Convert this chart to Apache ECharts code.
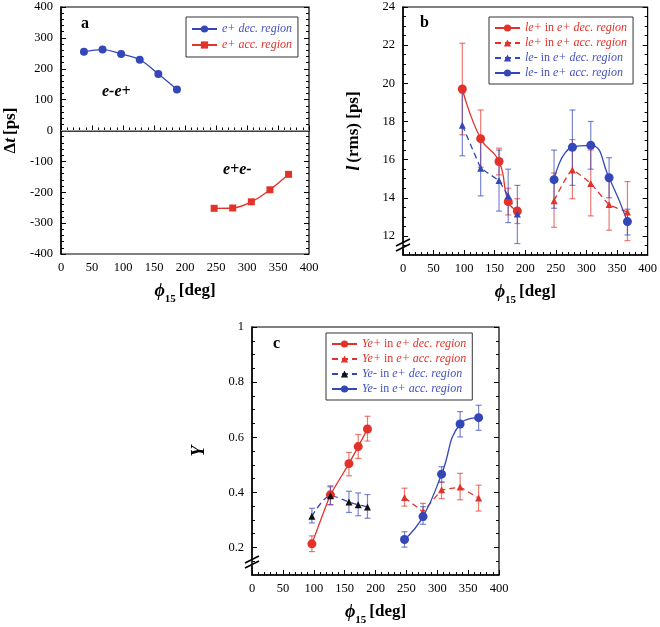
<!DOCTYPE html>
<html>
<head>
<meta charset="utf-8">
<script src="https://cdn.jsdelivr.net/npm/echarts@6/dist/echarts.min.js"></script>
<style>
  html, body { margin: 0; padding: 0; background: #fff; }
  #main { width: 660px; height: 627px; }
</style>
</head>
<body>
<div id="main"></div>
<script>
// ---- panel a: delta t vs phi15
const phiA_dec = [37, 67, 97, 127, 157, 187];
const dtA_dec = [255, 262, 248, 229, 183, 133];
const phiA_acc = [247, 277, 307, 337, 367];
const dtA_acc = [-252, -251, -231, -192, -142];

// ---- panels b, c share these phi positions
const phiDec = [97, 127, 157, 172, 187];
const phiAcc = [247, 277, 307, 337, 367];

// ---- panel b: bunch length (rms) [ps]
const lePlusDec = [19.7, 17.1, 15.9, 13.8, 13.3];
const lePlusDecLo = [17.3, 15.6, 15.2, 13.1, 12.65];
const lePlusDecHi = [22.1, 18.6, 16.6, 14.5, 13.95];
const lePlusAcc = [13.85, 15.45, 14.75, 13.65, 13.25];
const lePlusAccLo = [12.45, 13.95, 13.05, 12.3, 11.75];
const lePlusAccHi = [15.3, 17.05, 16.5, 15.0, 14.85];
const leMinusDec = [17.8, 15.55, 14.9, 14.1, 13.15];
const leMinusDecLo = [16.2, 14.1, 13.3, 12.7, 11.6];
const leMinusDecHi = [19.5, 17.1, 16.5, 15.5, 14.65];
const leMinusAcc = [14.95, 16.65, 16.75, 15.05, 12.75];
const leMinusAccLo = [13.45, 14.65, 15.5, 14.0, 12.05];
const leMinusAccHi = [16.5, 18.6, 18.0, 16.1, 13.4];

// ---- panel c: yield Y
const yePlusDec = [0.213, 0.391, 0.504, 0.566, 0.63];
const yePlusDecLo = [0.185, 0.355, 0.46, 0.523, 0.586];
const yePlusDecHi = [0.242, 0.424, 0.545, 0.61, 0.676];
const yePlusAcc = [0.381, 0.329, 0.409, 0.419, 0.379];
const yePlusAccLo = [0.35, 0.30, 0.377, 0.373, 0.332];
const yePlusAccHi = [0.415, 0.36, 0.437, 0.469, 0.426];
const yeMinusDec = [0.313, 0.388, 0.365, 0.355, 0.347];
const yeMinusDecLo = [0.289, 0.355, 0.327, 0.315, 0.306];
const yeMinusDecHi = [0.342, 0.42, 0.404, 0.398, 0.392];
const yeMinusAcc = [0.229, 0.312, 0.466, 0.648, 0.671];
const yeMinusAccLo = [0.201, 0.284, 0.437, 0.601, 0.625];
const yeMinusAccHi = [0.257, 0.348, 0.493, 0.693, 0.716];

// tick labels
const xTicks = [0, 50, 100, 150, 200, 250, 300, 350, 400];
const bTicks = [12, 14, 16, 18, 20, 22, 24];
const cTicks = [0.2, 0.4, 0.6, 0.8, 1];

const FONT = 'Liberation Serif';
const BLUE = '#3447b8';
const RED = '#e2322a';
const BLUE_TXT = '#4553c2';
const RED_TXT = '#e2322a';

const pairs = (xs, ys) => xs.map((x, i) => [x, ys[i]]);
const range = (a, b, step) => {
  const out = [];
  for (let v = a; v <= b + 1e-9; v += step) out.push(+v.toFixed(3));
  return out;
};

function errBars(xs, lo, hi, color, xi, yi) {
  return {
    type: 'custom',
    xAxisIndex: xi,
    yAxisIndex: yi,
    silent: true,
    z: 1,
    data: xs.map((x, i) => [x, lo[i], hi[i]]),
    renderItem: (params, api) => {
      const p1 = api.coord([api.value(0), api.value(1)]);
      const p2 = api.coord([api.value(0), api.value(2)]);
      const w = 3;
      const st = { stroke: color, lineWidth: 1.2 };
      return {
        type: 'group',
        children: [
          { type: 'line', shape: { x1: p1[0], y1: p1[1], x2: p2[0], y2: p2[1] }, style: st },
          { type: 'line', shape: { x1: p1[0] - w, y1: p1[1], x2: p1[0] + w, y2: p1[1] }, style: st },
          { type: 'line', shape: { x1: p2[0] - w, y1: p2[1], x2: p2[0] + w, y2: p2[1] }, style: st }
        ]
      };
    }
  };
}

function lineSeries(name, xs, ys, opt) {
  return {
    type: 'line',
    name: name,
    xAxisIndex: opt.xi,
    yAxisIndex: opt.yi,
    data: pairs(xs, ys),
    smooth: opt.smooth || false,
    symbol: opt.symbol,
    symbolSize: opt.size || 8,
    itemStyle: { color: opt.mark || opt.color },
    lineStyle: { color: opt.color, width: 1.3, type: opt.dashed ? [6, 4] : 'solid' },
    z: 3
  };
}

const xName = '{p|\u03d5}{s|15} {b|[deg]}';
const xNameStyle = {
  fontFamily: FONT,
  color: '#000',
  rich: {
    p: { fontFamily: FONT, fontSize: 18, fontWeight: 'bold', fontStyle: 'italic', verticalAlign: 'top', lineHeight: 23 },
    s: { fontFamily: FONT, fontSize: 11, fontWeight: 'bold', verticalAlign: 'bottom', lineHeight: 23 },
    b: { fontFamily: FONT, fontSize: 17, fontWeight: 'bold', verticalAlign: 'top', lineHeight: 23 }
  }
};

const xAxes = [0, 1, 2].map(i => ({
  gridIndex: i,
  type: 'value',
  min: 0,
  max: 400,
  interval: 50,
  splitLine: { show: false },
  axisLine: { lineStyle: { color: '#000', width: 1.5 } },
  axisTick: { inside: true, length: 5, lineStyle: { color: '#000' } },
  minorTick: { show: true, splitNumber: 5, length: 3, lineStyle: { color: '#000' } },
  axisLabel: { color: '#000', fontSize: 12.5, fontFamily: FONT, margin: 7 },
  name: xName,
  nameLocation: 'middle',
  nameGap: 28,
  nameTextStyle: xNameStyle
}));

const tickAxis = (grid, pos, min, max, values, len, labels, extra) => Object.assign({
  gridIndex: grid,
  type: 'value',
  position: pos,
  min: min,
  max: max,
  splitLine: { show: false },
  axisLine: { show: false },
  axisTick: { show: true, inside: true, length: len, customValues: values, lineStyle: { color: '#000' } },
  axisLabel: labels ? { color: '#000', fontSize: 12.5, fontFamily: FONT, margin: 8, customValues: values } : { show: false }
}, extra || {});

const yAxes = [
  // 0: panel a left
  {
    gridIndex: 0, type: 'value', min: -400, max: 400, interval: 100,
    splitLine: { show: false },
    axisLine: { lineStyle: { color: '#000', width: 1.5 } },
    axisTick: { inside: true, length: 5, lineStyle: { color: '#000' } },
    minorTick: { show: true, splitNumber: 5, length: 3, lineStyle: { color: '#000' } },
    axisLabel: { color: '#000', fontSize: 12.5, fontFamily: FONT, margin: 8 },
    name: '{d|\u0394}{t|t} {b|[ps]}', nameLocation: 'middle', nameGap: 42,
    nameTextStyle: {
      rich: {
        d: { fontFamily: FONT, fontSize: 17, fontWeight: 'bold' },
        t: { fontFamily: FONT, fontSize: 17, fontWeight: 'bold', fontStyle: 'italic' },
        b: { fontFamily: FONT, fontSize: 17, fontWeight: 'bold' }
      }
    }
  },
  // 1: panel a right
  {
    gridIndex: 0, type: 'value', position: 'right', min: -400, max: 400, interval: 100,
    splitLine: { show: false }, axisLine: { show: false },
    axisTick: { inside: true, length: 5, lineStyle: { color: '#000' } },
    minorTick: { show: true, splitNumber: 5, length: 3, lineStyle: { color: '#000' } },
    axisLabel: { show: false }
  },
  // 2: panel b left, main
  tickAxis(1, 'left', 11, 24, bTicks, 5, true, {
    axisLine: { show: true, lineStyle: { color: '#000', width: 1.5 } },
    name: '{l|l} {b|(rms) [ps]}', nameLocation: 'middle', nameGap: 40,
    nameTextStyle: {
      rich: {
        l: { fontFamily: FONT, fontSize: 18, fontWeight: 'bold', fontStyle: 'italic' },
        b: { fontFamily: FONT, fontSize: 17, fontWeight: 'bold' }
      }
    }
  }),
  // 3: panel b left minor
  tickAxis(1, 'left', 11, 24, range(11.5, 24, 0.5), 3, false),
  // 4: panel b right
  tickAxis(1, 'right', 11, 24, bTicks, 5, false),
  // 5: panel b right minor
  tickAxis(1, 'right', 11, 24, range(11.5, 24, 0.5), 3, false),
  // 6: panel c left, main
  tickAxis(2, 'left', 0.1, 1, cTicks, 5, true, {
    axisLine: { show: true, lineStyle: { color: '#000', width: 1.5 } },
    name: 'Y', nameLocation: 'middle', nameGap: 44,
    nameTextStyle: { fontFamily: FONT, fontSize: 18, fontWeight: 'bold', fontStyle: 'italic', color: '#000' }
  }),
  // 7: panel c left minor
  tickAxis(2, 'left', 0.1, 1, range(0.15, 1, 0.05), 3, false),
  // 8: panel c right
  tickAxis(2, 'right', 0.1, 1, cTicks, 5, false),
  // 9: panel c right minor
  tickAxis(2, 'right', 0.1, 1, range(0.15, 1, 0.05), 3, false)
];

const legendBase = {
  orient: 'vertical',
  itemWidth: 25,
  itemHeight: 9,
  itemGap: 3,
  padding: [5, 6, 5, 5],
  borderColor: '#333',
  borderWidth: 1,
  backgroundColor: '#fff',
  borderRadius: 0,
  selectedMode: false
};

const LFS = 12;
const richLegend = {
  ir: { fontFamily: FONT, fontSize: LFS, fontStyle: 'italic', color: RED_TXT },
  nr: { fontFamily: FONT, fontSize: LFS, color: RED_TXT },
  ib: { fontFamily: FONT, fontSize: LFS, fontStyle: 'italic', color: BLUE_TXT },
  nb: { fontFamily: FONT, fontSize: LFS, color: BLUE_TXT }
};
const mixedName = name => {
  const parts = name.split(' in ');
  const c = name.indexOf('+ in') > 0 ? 'r' : 'b';
  return '{i' + c + '|' + parts[0] + '} {n' + c + '|in} {i' + c + '|' + parts[1] + '}';
};

const series = [
  // panel a
  Object.assign(lineSeries('e+ dec. region', phiA_dec, dtA_dec, { xi: 0, yi: 0, color: BLUE, symbol: 'circle', size: 8, smooth: 0.4 }), {
    markLine: {
      silent: true, symbol: 'none', label: { show: false },
      lineStyle: { color: '#9a9a9a', width: 1, type: 'solid' },
      data: [{ yAxis: 0 }]
    }
  }),
  lineSeries('e+ acc. region', phiA_acc, dtA_acc, { xi: 0, yi: 0, color: RED, symbol: 'rect', size: 7, smooth: 0.4 }),

  // panel b
  errBars(phiDec, lePlusDecLo, lePlusDecHi, 'rgba(226,50,42,0.65)', 1, 2),
  errBars(phiAcc, lePlusAccLo, lePlusAccHi, 'rgba(226,50,42,0.65)', 1, 2),
  errBars(phiDec, leMinusDecLo, leMinusDecHi, 'rgba(52,71,184,0.65)', 1, 2),
  errBars(phiAcc, leMinusAccLo, leMinusAccHi, 'rgba(52,71,184,0.65)', 1, 2),
  lineSeries('le+ in e+ dec. region', phiDec, lePlusDec, { xi: 1, yi: 2, color: RED, symbol: 'circle', size: 9, smooth: 0.5 }),
  lineSeries('le+ in e+ acc. region', phiAcc, lePlusAcc, { xi: 1, yi: 2, color: RED, symbol: 'triangle', size: 7, dashed: true, smooth: 0.15 }),
  lineSeries('le- in e+ dec. region', phiDec, leMinusDec, { xi: 1, yi: 2, color: BLUE, symbol: 'triangle', size: 7, dashed: true }),
  lineSeries('le- in e+ acc. region', phiAcc, leMinusAcc, { xi: 1, yi: 2, color: BLUE, symbol: 'circle', size: 9, smooth: 0.5 }),

  // panel c
  errBars(phiDec, yePlusDecLo, yePlusDecHi, 'rgba(226,50,42,0.65)', 2, 6),
  errBars(phiAcc, yePlusAccLo, yePlusAccHi, 'rgba(226,50,42,0.65)', 2, 6),
  errBars(phiDec, yeMinusDecLo, yeMinusDecHi, 'rgba(52,71,184,0.65)', 2, 6),
  errBars(phiAcc, yeMinusAccLo, yeMinusAccHi, 'rgba(52,71,184,0.65)', 2, 6),
  lineSeries('Ye+ in e+ dec. region', phiDec, yePlusDec, { xi: 2, yi: 6, color: RED, symbol: 'circle', size: 9, smooth: 0.1 }),
  lineSeries('Ye+ in e+ acc. region', phiAcc, yePlusAcc, { xi: 2, yi: 6, color: RED, symbol: 'triangle', size: 7, dashed: true }),
  lineSeries('Ye- in e+ dec. region', phiDec, yeMinusDec, { xi: 2, yi: 6, color: BLUE, mark: '#111', symbol: 'triangle', size: 7, dashed: true, smooth: 0.3 }),
  lineSeries('Ye- in e+ acc. region', phiAcc, yeMinusAcc, { xi: 2, yi: 6, color: BLUE, symbol: 'circle', size: 9, smooth: 0.5 })
];

// axis break marks and panel letters
const breakMark = (x, y) => ({
  type: 'group',
  x: x, y: y,
  children: [
    { type: 'rect', shape: { x: -6, y: -4, width: 12, height: 7 }, style: { fill: '#fff' } },
    { type: 'line', shape: { x1: -7, y1: 0, x2: 7, y2: -7 }, style: { stroke: '#000', lineWidth: 1.6 } },
    { type: 'line', shape: { x1: -7, y1: 5, x2: 7, y2: -2 }, style: { stroke: '#000', lineWidth: 1.6 } }
  ]
});
const label = (x, y, text, italic) => ({
  type: 'text', x: x, y: y,
  style: { text: text, fontFamily: FONT, fontSize: 16, fontWeight: 'bold', fontStyle: italic ? 'italic' : 'normal', fill: '#000' }
});

const option = {
  animation: false,
  textStyle: { fontFamily: FONT },
  grid: [
    { left: 61, top: 7, width: 248, height: 247, show: true, borderColor: '#000', borderWidth: 1.2 },
    { left: 403, top: 7, width: 248, height: 248, show: true, borderColor: '#000', borderWidth: 1.2 },
    { left: 252, top: 327, width: 247, height: 249, show: true, borderColor: '#000', borderWidth: 1.2 }
  ],
  xAxis: xAxes,
  yAxis: yAxes,
  legend: [
    Object.assign({}, legendBase, {
      left: 186, top: 17,
      padding: [6, 6, 6, 5],
      itemGap: 4,
      textStyle: { fontFamily: FONT, fontSize: LFS, fontStyle: 'italic' },
      data: [
        { name: 'e+ dec. region', textStyle: { color: BLUE_TXT } },
        { name: 'e+ acc. region', textStyle: { color: RED_TXT } }
      ]
    }),
    Object.assign({}, legendBase, {
      left: 489, top: 17,
      formatter: mixedName,
      textStyle: { rich: richLegend },
      data: ['le+ in e+ dec. region', 'le+ in e+ acc. region', 'le- in e+ dec. region', 'le- in e+ acc. region']
    }),
    Object.assign({}, legendBase, {
      left: 326, top: 333,
      formatter: mixedName,
      textStyle: { rich: richLegend },
      data: ['Ye+ in e+ dec. region', 'Ye+ in e+ acc. region', 'Ye- in e+ dec. region', 'Ye- in e+ acc. region']
    })
  ],
  graphic: [
    label(81, 16, 'a'),
    label(420, 15, 'b'),
    label(273, 336, 'c'),
    label(102, 84, 'e-e+', true),
    label(223, 162, 'e+e-', true),
    breakMark(403, 246),
    breakMark(252, 563)
  ],
  series: series
};

const chart = echarts.init(document.getElementById('main'), null, { renderer: 'canvas' });
chart.setOption(option);
</script>
</body>
</html>
